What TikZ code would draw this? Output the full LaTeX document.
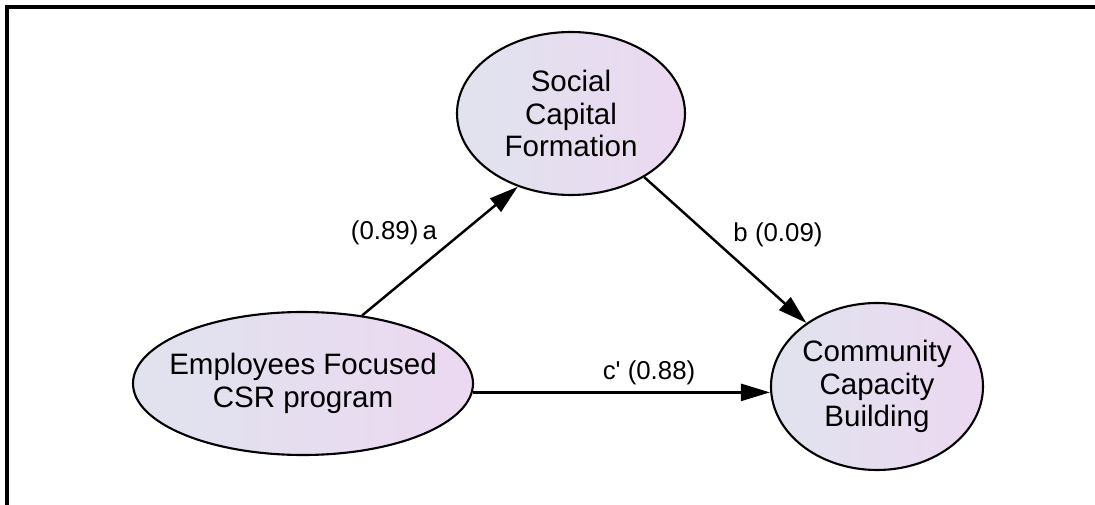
\documentclass[tikz,border=0pt]{standalone}
\usepackage{fontspec}
\setmainfont{Liberation Sans}
\usetikzlibrary{arrows.meta,shapes.geometric}
\definecolor{shadeleft}{RGB}{224,227,238}
\definecolor{shaderight}{RGB}{236,216,241}
\begin{document}
\begin{tikzpicture}[
    construct/.style={ellipse, draw=black, line width=1.2pt, inner sep=0pt,
        left color=shadeleft, right color=shaderight},
    constxt/.style={align=center, font=\fontsize{16.8}{18.4}\selectfont, inner sep=0pt},
    path/.style={line width=1.4pt, -{Triangle[length=5.8mm,width=3.4mm]}},
    coef/.style={font=\fontsize{14.7}{16}\selectfont, inner sep=1pt}
]
    \useasboundingbox (0,0) rectangle (21.9,10.1);
    % Frame
    \draw[line width=2.2pt] (0.14,0) -- (0.14,9.96) -- (21.9,9.96);

    % Constructs
    \node[construct, minimum width=6.8cm, minimum height=2.86cm,
        label={[constxt]center:Employees Focused\\CSR program}] (emp) at (6.06,2.43) {};
    \node[construct, minimum width=4.56cm, minimum height=3.26cm,
        label={[constxt]center:Social\\Capital\\Formation}] (scf) at (11.42,7.83) {};
    \node[construct, minimum width=4.24cm, minimum height=3.34cm,
        label={[constxt]center:Community\\Capacity\\Building}] (ccb) at (17.54,2.37) {};

    % Paths
    \draw[path] (emp.49) -- (scf.234);
    \draw[path] (scf.-41) -- (ccb.138);
    \draw[path] (emp.-3.5) -- (emp.-3.5 -| ccb.west);

    % Coefficients
    \node[coef] (acoef) at (7.88,5.44) {(0.89)\,a};
    \node[coef] (bcoef) at (15.56,5.40) {b (0.09)};
    \node[coef] (ccoef) at (12.98,2.64) {c\textquotesingle\ (0.88)};
\end{tikzpicture}
\end{document}
